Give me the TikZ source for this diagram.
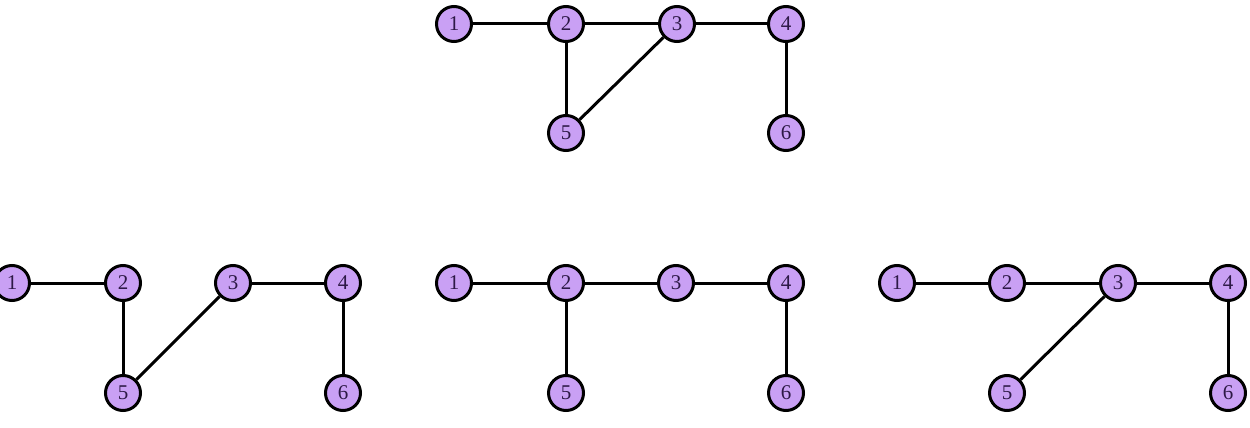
\documentclass[tikz,border=0pt]{standalone}
\usepackage{fontspec}
\setmainfont{Liberation Serif}
\begin{document}
\begin{tikzpicture}[x=1pt,y=-1pt,
  vtx/.style={circle,draw=black,line width=3pt,fill=vfill,minimum size=35pt,inner sep=0pt,
    font=\fontsize{21}{21}\selectfont,text=txtc},
  edge/.style={line width=3pt,draw=black}]
\definecolor{vfill}{RGB}{201,160,244}
\definecolor{txtc}{RGB}{45,25,70}
\useasboundingbox (0,0) rectangle (1250,428);
% top graph
\node[vtx] (a1) at (454,24) {1};
\node[vtx] (a2) at (566,24) {2};
\node[vtx] (a3) at (677,24) {3};
\node[vtx] (a4) at (786,24) {4};
\node[vtx] (a5) at (566,133) {5};
\node[vtx] (a6) at (786,133) {6};
% bottom left
\node[vtx] (b1) at (12,283) {1};
\node[vtx] (b2) at (123,283) {2};
\node[vtx] (b3) at (233,283) {3};
\node[vtx] (b4) at (343,283) {4};
\node[vtx] (b5) at (123,393) {5};
\node[vtx] (b6) at (343,393) {6};
% bottom middle
\node[vtx] (c1) at (454,283) {1};
\node[vtx] (c2) at (566,283) {2};
\node[vtx] (c3) at (676,283) {3};
\node[vtx] (c4) at (786,283) {4};
\node[vtx] (c5) at (566,393) {5};
\node[vtx] (c6) at (786,393) {6};
% bottom right
\node[vtx] (d1) at (897,283) {1};
\node[vtx] (d2) at (1007,283) {2};
\node[vtx] (d3) at (1118,283) {3};
\node[vtx] (d4) at (1228,283) {4};
\node[vtx] (d5) at (1007,393) {5};
\node[vtx] (d6) at (1228,393) {6};
% edges
\draw[edge] (a1) -- (a2); \draw[edge] (a2) -- (a3); \draw[edge] (a3) -- (a4);
\draw[edge] (a2) -- (a5); \draw[edge] (a3) -- (a5); \draw[edge] (a4) -- (a6);
\draw[edge] (b1) -- (b2); \draw[edge] (b2) -- (b5); \draw[edge] (b5) -- (b3);
\draw[edge] (b3) -- (b4); \draw[edge] (b4) -- (b6);
\draw[edge] (c1) -- (c2); \draw[edge] (c2) -- (c3); \draw[edge] (c3) -- (c4);
\draw[edge] (c2) -- (c5); \draw[edge] (c4) -- (c6);
\draw[edge] (d1) -- (d2); \draw[edge] (d2) -- (d3); \draw[edge] (d3) -- (d4);
\draw[edge] (d3) -- (d5); \draw[edge] (d4) -- (d6);
\end{tikzpicture}
\end{document}
